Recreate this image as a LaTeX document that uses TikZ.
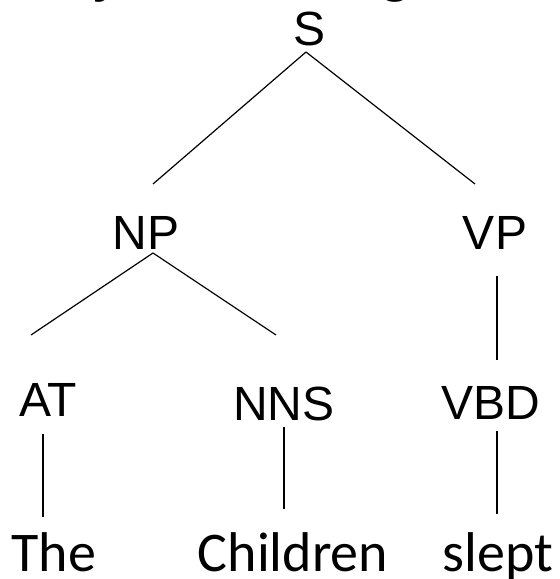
\documentclass[tikz,border=0pt]{standalone}
\usepackage{fontspec}
\setmainfont{Liberation Sans}
\newfontfamily\handfont{Carlito}
\begin{document}
\begin{tikzpicture}[x=1pt,y=1pt,
  cat/.style={anchor=base,inner sep=0pt,font=\fontsize{48}{56}\selectfont},
  word/.style={anchor=base,inner sep=0pt,font=\handfont\fontsize{56}{66}\selectfont},
  edge/.style={line width=1.2pt,line cap=butt}]
\useasboundingbox (0,0) rectangle (560,579);
\clip (0,0) rectangle (560,579);
\fill[white] (0,0) rectangle (560,579);

% heading, mostly above the top edge
\node[anchor=base west,inner sep=0pt,font=\fontsize{62}{70}\selectfont]
  (title) at (52,589) {Symbolic\hspace{75pt}grammar};

% categories
\node[cat] (S)   at (310,533) {S};
\node[cat] (NP)  at (146,329) {NP};
\node[cat] (VP)  at (495,329) {VP};
\node[cat] (AT)  at (48,162)  {AT};
\node[cat] (NNS) at (284,158) {NNS};
\node[cat] (VBD) at (491,159) {VBD};

% words
\node[word] (the)      at (54,7)  {The};
\node[word] (children) at (293,7) {Children};
\node[word] (slept)    at (498,7) {slept};

% branches
\draw[edge] ([shift={(-4,-6)}]S.base) -- ([shift={(7,66)}]NP.base);
\draw[edge] ([shift={(-4,-6)}]S.base) -- ([shift={(-20,66)}]VP.base);
\draw[edge] ([shift={(7,-3)}]NP.base) -- ([shift={(-17,82)}]AT.base);
\draw[edge] ([shift={(7,-3)}]NP.base) -- ([shift={(-8,86)}]NNS.base);
\draw[edge] ([shift={(2,-26)}]VP.base) -- ([shift={(6,60)}]VBD.base);
\draw[edge] ([shift={(-5,-17)}]AT.base) -- ([shift={(-11,55)}]the.base);
\draw[edge] ([shift={(0,-6)}]NNS.base) -- ([shift={(-9,63)}]children.base);
\draw[edge] ([shift={(6,-11)}]VBD.base) -- ([shift={(-1,58)}]slept.base);
\end{tikzpicture}
\end{document}
